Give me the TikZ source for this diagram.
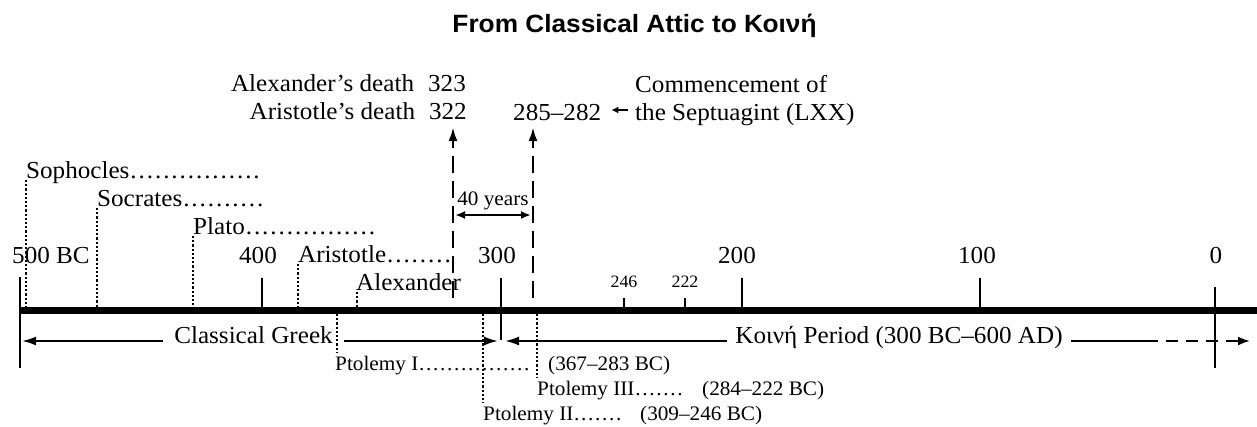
\documentclass[tikz,border=0pt]{standalone}
\usepackage{fontspec}
\setmainfont[FakeStretch=1.03]{Liberation Serif}
\newfontfamily\titlefont[FakeStretch=1.05]{Liberation Sans}
\usetikzlibrary{arrows.meta}
\newcount\dotcount
\newcommand{\dotrun}[2]{\dotcount=0 \loop\ifnum\dotcount<#1 \hbox to #2{\hss.\hss}\advance\dotcount by 1 \repeat}

\begin{document}
\begin{tikzpicture}[x=1pt,y=-1pt,
    big/.style={font=\fontsize{24.4}{29}\selectfont,inner sep=0pt},
    mid/.style={font=\fontsize{20.6}{25}\selectfont,inner sep=0pt},
    small/.style={font=\fontsize{17.4}{21}\selectfont,inner sep=0pt},
    tick/.style={line width=2pt},
    life/.style={line width=2.2pt,dash pattern=on 2.2pt off 2pt},
    era/.style={line width=2pt,-{Latex[length=14pt,width=9pt]}},
    reach/.style={line width=2.6pt,dash pattern=on 17pt off 8pt,-{Latex[length=14pt,width=9pt]}}]
  \useasboundingbox (0,0) rectangle (1257,426);
  \node[font=\titlefont\fontsize{25}{30}\bfseries\selectfont,inner sep=0pt,anchor=base] (title) at (634.5,32) {From Classical Attic to Κοινή};

  % time line
  \coordinate (ax0) at (20,310);
  \coordinate (axend) at (1257,310);
  \draw[line width=7pt] (ax0) -- (axend);
  \draw[tick] (20,277) -- (20,368);
  \draw[tick] (1215,287) -- (1215,368);
  \foreach \x/\lo in {262/310,501/340,742/310,980/310}
    \draw[tick] (\x,278) -- (\x,\lo);
  \foreach \x in {624,685}
    \draw[tick] (\x,298) -- (\x,310);
  \node[big,anchor=base west] (y500) at (12,263) {500 BC};
  \foreach \x/\yr in {258/400,497/300,737/200,977/100,1216/0}
    \node[big,anchor=base] (y\yr) at (\x,263) {\yr};
  \foreach \x/\yr in {624/246,685/222}
    \node[small,anchor=base] (y\yr) at (\x,287) {\yr};

  % people above the line
  \foreach \x/\yb/\who/\nd in {26/178/Sophocles/16,97/206/Socrates/10,193/234/Plato/16,298/262/Aristotle/8}{
    \node[big,anchor=base west] (p\who) at (\x,\yb) {\who\dotrun{\nd}{8.2pt}};
    \draw[life] ([yshift=-2pt]p\who.base west) -- (p\who.base west |- ax0);
  }
  \node[big,anchor=base west] (pAlexander) at (356,290) {Alexander};
  \draw[life] ([xshift=1pt,yshift=-2pt]pAlexander.base west) -- ([xshift=1pt]pAlexander.base west |- ax0);

  % deaths and the Septuagint
  \node[big,anchor=base east] (alexdeath) at (466,91) {Alexander’s death\hspace{14pt}323};
  \node[big,anchor=base east] (aristdeath) at (467,119) {Aristotle’s death\hspace{14pt}322};
  \node[big,anchor=base west] (lxxyears) at (513,120) {285–282};
  \node[big,anchor=base west] (comm) at (635,92) {Commencement of};
  \node[big,anchor=base west] (lxx) at (635,120) {the Septuagint (LXX)};
  \draw[line width=1.6pt,-{Latex[length=7pt,width=7pt]}] ([shift={(-7,-10)}]lxx.base west) -- ([shift={(10,-10)}]lxxyears.base east);
  \coordinate (alexbot) at (453,298);
  \coordinate (alextop) at (453,127);
  \coordinate (lxxbot) at (533,298);
  \coordinate (lxxtop) at (533,127);
  \draw[reach] (alexbot) -- (alextop);
  \draw[reach] (lxxbot) -- (lxxtop);
  \node[mid,anchor=base] (span) at (493,205) {40 years};
  \coordinate (spanl) at (455,215);
  \coordinate (spanr) at (531,215);
  \draw[line width=2pt,{Latex[length=10pt,width=8pt]}-{Latex[length=10pt,width=8pt]}] (spanl) -- (spanr);

  % periods
  \node[big,anchor=base,inner xsep=11pt] (classical) at (253.5,343) {Classical Greek};
  \node[big,anchor=base,inner xsep=8pt] (koine) at (899,343) {Κοινή Period (300 BC–600 AD)};
  \coordinate (cgl) at (22,341);
  \coordinate (cgr) at (498,341);
  \coordinate (kl) at (505,341);
  \coordinate (kdash) at (1146,341);
  \coordinate (kend) at (1250,341);
  \draw[era] (classical.west |- cgl) -- (cgl);
  \draw[era] (classical.east |- cgr) -- (cgr);
  \draw[era] (koine.west |- kl) -- (kl);
  \draw[line width=2pt] (koine.east |- kdash) -- (kdash);
  \draw[line width=2pt,dash pattern=on 12pt off 8pt,-{Latex[length=12pt,width=9pt]}] (kdash) -- (kend);

  % Ptolemies below the line
  \node[mid,anchor=base west] (ptol1) at (335,370) {Ptolemy I\dotrun{16}{7pt}};
  \node[mid,anchor=base west] (ptol1yr) at (548,370) {(367–283 BC)};
  \node[mid,anchor=base west] (ptol3) at (537,395) {Ptolemy III\dotrun{7}{7pt}};
  \node[mid,anchor=base west] (ptol3yr) at (702,395) {(284–222 BC)};
  \node[mid,anchor=base west] (ptol2) at (483,420) {Ptolemy II\dotrun{7}{7pt}};
  \node[mid,anchor=base west] (ptol2yr) at (640,420) {(309–246 BC)};
  \coordinate (t1) at (337,314);
  \coordinate (t2) at (483,314);
  \coordinate (t3) at (537,314);
  \draw[life,shorten >=3pt] (t1) -- (t1 |- ptol1.north);
  \draw[life,shorten >=3pt] (t2) -- (t2 |- ptol2.north);
  \draw[life,shorten >=3pt] (t3) -- (t3 |- ptol3.north);
\end{tikzpicture}
\end{document}
